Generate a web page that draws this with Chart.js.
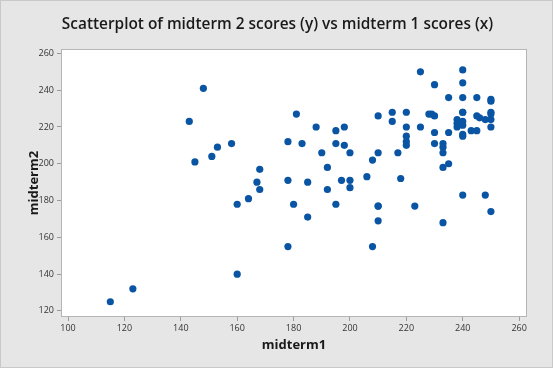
<!DOCTYPE html>
<html>
<head>
<meta charset="utf-8">
<script src="https://cdn.jsdelivr.net/npm/chart.js@4.4.1/dist/chart.umd.min.js"></script>
<style>
  html, body { margin: 0; padding: 0; background: #e6e6e6; }
  #wrap { position: relative; width: 553px; height: 368px; box-sizing: border-box; border: 1px solid #c9c9c9; }
  canvas { display: block; }
</style>
</head>
<body>
<div id="wrap"><canvas id="ctx" width="553" height="368"></canvas></div>
<script>
// midterm 1 (x) and midterm 2 (y) scores
const midterm1 = [
  115, 123, 143, 148, 145, 151, 153, 158, 160, 160, 164,
  167, 168, 168, 178, 178, 178, 180, 181, 183, 185, 185, 188,
  190, 192, 192, 195, 195, 195, 197, 198, 198, 200, 200, 200,
  206, 208, 208, 210, 210, 210, 210, 210,
  215, 215, 217, 218, 220, 220, 220, 220, 220, 223, 225, 225,
  228, 229, 230, 230, 230, 230, 233, 233, 233, 233, 233, 235, 235, 235,
  238, 238, 238, 240, 240, 240, 240, 240, 240, 240, 240, 240, 240,
  243, 245, 245, 245, 246, 248, 248, 250, 250, 250, 250, 250, 250, 250
];
const midterm2 = [
  125, 132, 223, 241, 201, 204, 209, 211, 178, 140, 181,
  190, 197, 186, 212, 191, 155, 178, 227, 211, 190, 171, 220,
  206, 198, 186, 218, 211, 178, 191, 220, 210, 206, 191, 187,
  193, 202, 155, 226, 206, 177, 169, 177,
  228, 223, 206, 192, 228, 220, 215, 212, 210, 177, 250, 220,
  227, 227, 226, 243, 217, 211, 211, 209, 206, 198, 168, 236, 217, 200,
  224, 222, 220, 251, 244, 236, 228, 223, 221, 216, 215, 183, 228,
  218, 236, 226, 218, 225, 224, 183, 235, 234, 228, 227, 224, 220, 174
];
const xTicks = [100, 120, 140, 160, 180, 200, 220, 240, 260];
const yTicks = [120, 140, 160, 180, 200, 220, 240, 260];

const points = midterm1.map((x, i) => ({ x: x, y: midterm2[i] }));

const plotBg = {
  id: 'plotBg',
  beforeDatasetsDraw(chart) {
    const a = chart.chartArea;
    const c = chart.ctx;
    c.save();
    c.fillStyle = '#ffffff';
    c.fillRect(a.left, a.top, a.width, a.height);
    c.strokeStyle = '#b5b5b5';
    c.lineWidth = 1;
    c.strokeRect(a.left + 0.5, a.top + 0.5, a.width - 1, a.height - 1);
    c.restore();
  }
};

const tickFont = { family: 'Open Sans', size: 9 };
const titleFont = { family: 'Open Sans', size: 13, weight: 'bold', lineHeight: 1.2 };

new Chart(document.getElementById('ctx').getContext('2d'), {
  type: 'scatter',
  data: {
    datasets: [{
      label: 'midterm2',
      data: points,
      pointRadius: 3.6,
      pointHoverRadius: 3.6,
      borderWidth: 0,
      backgroundColor: '#0a55a3'
    }]
  },
  options: {
    responsive: false,
    animation: false,
    layout: { padding: 0 },
    plugins: {
      legend: { display: false },
      tooltip: { enabled: false },
      title: {
        display: true,
        text: 'Scatterplot of midterm 2 scores (y) vs midterm 1 scores (x)',
        color: '#1a1a1a',
        font: { family: 'Open Sans', size: 15.4, weight: '600', lineHeight: 1.2 },
        padding: { top: 14, bottom: 15.5 }
      }
    },
    scales: {
      x: {
        type: 'linear',
        min: 97.5,
        max: 262.8,
        afterBuildTicks: s => { s.ticks = xTicks.map(v => ({ value: v })); },
        afterFit: s => { s.height = 52; },
        grid: { drawOnChartArea: false, tickLength: 4, color: '#9a9a9a' },
        border: { display: false },
        ticks: { font: tickFont, color: '#333333', padding: 2, maxRotation: 0 },
        title: { display: true, text: 'midterm1', color: '#1a1a1a', font: titleFont, padding: { top: 0, bottom: 16 } }
      },
      y: {
        type: 'linear',
        min: 116.7,
        max: 262.4,
        afterBuildTicks: s => { s.ticks = yTicks.map(v => ({ value: v })); },
        afterFit: s => { s.width = 60; },
        grid: { drawOnChartArea: false, tickLength: 4, color: '#9a9a9a' },
        border: { display: false },
        ticks: { font: tickFont, color: '#333333', padding: 3 },
        title: { display: true, text: 'midterm2', color: '#1a1a1a', font: titleFont, padding: { top: 25, bottom: 0 } }
      },
      // empty right-hand margin so the title centres on the whole canvas
      yRight: {
        type: 'linear',
        position: 'right',
        afterFit: s => { s.width = 27; },
        grid: { display: false },
        border: { display: false },
        ticks: { display: false }
      }
    }
  },
  plugins: [plotBg]
});
</script>
</body>
</html>
